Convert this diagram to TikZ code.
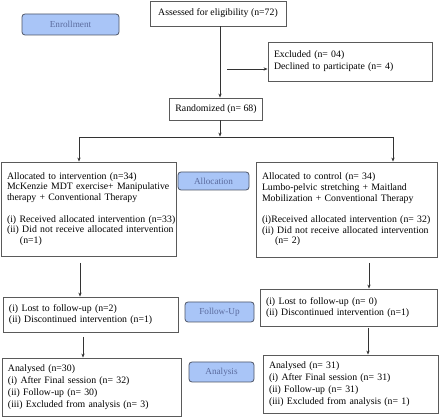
\documentclass[tikz,border=0pt]{standalone}
\usepackage{fontspec}
\setmainfont{Liberation Serif}
\usetikzlibrary{arrows.meta,calc}
\definecolor{boxgray}{HTML}{5A5A5A}
\definecolor{lblfill}{HTML}{A9C5F7}
\definecolor{lbldraw}{HTML}{4E5668}
\definecolor{lbltext}{HTML}{5B6B9E}
\definecolor{linecol}{HTML}{333333}
\tikzset{
  box/.style={draw=boxgray, line width=0.8pt, font=\fontsize{9.8}{11.8}\selectfont, inner xsep=6pt, inner ysep=0pt, align=left, anchor=center},
  cbox/.style={box, align=center},
  lbl/.style={draw=lbldraw, fill=lblfill, line width=0.8pt, rounded corners=3pt, text=lbltext, font=\fontsize{9.2}{10}\selectfont, inner sep=0pt, anchor=center},
  arr/.style={draw=linecol, line width=0.7pt, -{Stealth[length=4pt,width=3.2pt]}},
  conn/.style={draw=linecol, line width=0.7pt},
}
\begin{document}
\begin{tikzpicture}[x=1pt,y=-1pt]
\useasboundingbox[fill=white] (0,0) rectangle (440,417);
% boxes
\node[cbox, minimum width=136pt, minimum height=25pt] (assess) at (218,13.5) {Assessed for eligibility (n=72)};
\node[box, text width=152pt, minimum height=39pt] (excl) at (350,61.5) {\mbox{Excluded (n= 04)}\\\mbox{Declined to participate (n= 4)}};
\node[cbox, minimum width=92pt, minimum height=22pt] (rand) at (216,109) {Randomized (n= 68)};
\node[box, text width=163pt, minimum height=94pt, font=\fontsize{9.8}{10.7}\selectfont] (allocL) at (88.5,209) {\mbox{Allocated to intervention (n=34)}\\\mbox{McKenzie MDT exercise+ Manipulative}\\\mbox{therapy + Conventional Therapy}\\[10.7pt]\mbox{(i) Received allocated intervention (n=33)}\\\mbox{(ii) Did not receive allocated intervention}\\\hspace*{13pt}(n=1)};
\node[box, text width=169pt, minimum height=95pt, font=\fontsize{9.8}{10.7}\selectfont] (allocR) at (346.5,209.5) {\mbox{Allocated to control (n= 34)}\\\mbox{Lumbo-pelvic stretching + Maitland}\\\mbox{Mobilization + Conventional Therapy}\\[10.7pt]\mbox{(i)Received allocated intervention (n= 32)}\\\mbox{(ii) Did not receive allocated intervention}\\\hspace*{13pt}(n= 2)};
\node[box, text width=163pt, minimum height=35pt] (fuL) at (90.5,314.5) {\mbox{(i) Lost to follow-up (n=2)}\\\mbox{(ii) Discontinued intervention (n=1)}};
\node[box, text width=165pt, minimum height=37pt] (fuR) at (348.5,307.5) {\mbox{(i) Lost to follow-up (n= 0)}\\\mbox{(ii) Discontinued intervention (n=1)}};
\node[box, text width=167pt, minimum height=58pt] (anL) at (91.5,387) {\mbox{Analysed (n=30)}\\\mbox{(i) After Final session (n= 32)}\\\mbox{(ii) Follow-up (n= 30)}\\\mbox{(iii) Excluded from analysis (n= 3)}};
\node[box, text width=163pt, minimum height=58pt] (anR) at (350.5,384) {\mbox{Analysed (n= 31)}\\\mbox{(i) After Final session (n= 31)}\\\mbox{(ii) Follow-up (n= 31)}\\\mbox{(iii) Excluded from analysis (n= 1)}};
% labels
\node[lbl, minimum width=97pt, minimum height=21pt] (enroll) at (70.5,24.5) {Enrollment};
\node[lbl, minimum width=71pt, minimum height=18pt] (allocl) at (213.5,181) {Allocation};
\node[lbl, minimum width=69pt, minimum height=20pt] (ful) at (219.5,312) {Follow-Up};
\node[lbl, minimum width=65pt, minimum height=20pt] (anl) at (221.5,372) {Analysis};
% connectors
\draw[arr] ([xshift=2pt]assess.south) -- ([xshift=4pt]rand.north);
\coordinate (ex0) at (227,69);
\draw[arr] (ex0) -- (ex0 -| excl.west);
\coordinate (split) at (220,136.6);
\draw[arr] ([xshift=4pt]rand.south) -- (split);
\coordinate (hl) at (79,137);
\coordinate (hr) at (393,137);
\draw[conn] (hl) -- (hr);
\draw[arr] (hl) -- (hl |- allocL.north);
\draw[arr] (hr) -- (hr |- allocR.north);
\coordinate (l1) at (80,263);
\draw[arr] (l1) -- (l1 |- fuL.north);
\coordinate (r1) at (369,263);
\draw[arr] (r1) -- (r1 |- fuR.north);
\coordinate (l2) at (83,337);
\draw[arr] (l2) -- (l2 |- anL.north);
\coordinate (r2) at (368,328);
\draw[arr] (r2) -- (r2 |- anR.north);
\end{tikzpicture}
\end{document}
